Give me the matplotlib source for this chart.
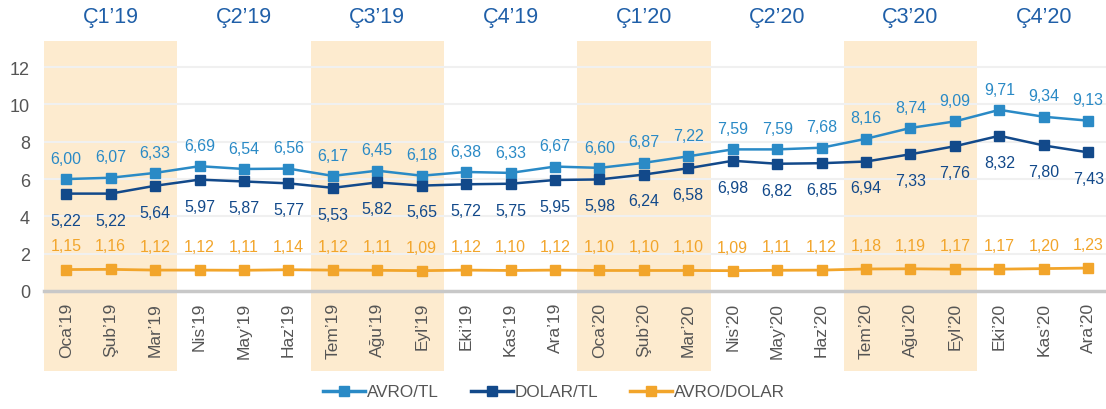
import matplotlib
matplotlib.use("Agg")
import matplotlib.pyplot as plt
from matplotlib.patches import Rectangle
from matplotlib.lines import Line2D
import matplotlib.transforms as mtransforms

plt.rcParams['font.family'] = ['Liberation Sans', 'DejaVu Sans']

months = ["Oca’19", "Şub’19", "Mar’19", "Nis’19", "May’19", "Haz’19",
          "Tem’19", "Ağu’19", "Eyl’19", "Eki’19", "Kas’19", "Ara’19",
          "Oca’20", "Şub’20", "Mar’20", "Nis’20", "May’20", "Haz’20",
          "Tem’20", "Ağu’20", "Eyl’20", "Eki’20", "Kas’20", "Ara’20"]
quarters = ["Ç1’19", "Ç2’19", "Ç3’19", "Ç4’19", "Ç1’20", "Ç2’20", "Ç3’20", "Ç4’20"]
avro_tl = [6.00, 6.07, 6.33, 6.69, 6.54, 6.56, 6.17, 6.45, 6.18, 6.38, 6.33, 6.67,
           6.60, 6.87, 7.22, 7.59, 7.59, 7.68, 8.16, 8.74, 9.09, 9.71, 9.34, 9.13]
dolar_tl = [5.22, 5.22, 5.64, 5.97, 5.87, 5.77, 5.53, 5.82, 5.65, 5.72, 5.75, 5.95,
            5.98, 6.24, 6.58, 6.98, 6.82, 6.85, 6.94, 7.33, 7.76, 8.32, 7.80, 7.43]
avro_dolar = [1.15, 1.16, 1.12, 1.12, 1.11, 1.14, 1.12, 1.11, 1.09, 1.12, 1.10, 1.12,
              1.10, 1.10, 1.10, 1.09, 1.11, 1.12, 1.18, 1.19, 1.17, 1.17, 1.20, 1.23]
series_names = ["AVRO/TL", "DOLAR/TL", "AVRO/DOLAR"]

c_avro = "#2a8ac6"
c_dolar = "#12498a"
c_orange = "#f2a52b"
c_shade = "#fdebcf"
c_q = "#1f5fa8"
c_gray = "#555555"

fig = plt.figure(figsize=(11.06, 4.10), dpi=100)
ax = fig.add_axes([44/1106, 118/410, 1062/1106, 250/410])
x = list(range(len(months)))
ax.set_xlim(-0.5, 23.4)
ax.set_ylim(0, 13.4)

# shading bands for Q1 and Q3, extending beyond axes
trans = mtransforms.blended_transform_factory(ax.transData, fig.transFigure)
for qi in range(len(quarters)):
    if qi % 2 == 0:
        r = Rectangle((qi*3 - 0.5, 38/410), 3, (368-38)/410, transform=trans,
                      facecolor=c_shade, edgecolor='none', zorder=0, clip_on=False)
        ax.add_patch(r)
    ax.text(qi*3 + 1, 392/410, quarters[qi], transform=trans, ha='center', va='center',
            color=c_q, fontsize=15.5)

ax.set_facecolor('none')
for yv in [2, 4, 6, 8, 10, 12]:
    ax.axhline(yv, color='#f0f0f0', lw=1.5, zorder=1)
ax.axhline(0, color='#c8c8c8', lw=2.5, zorder=1, clip_on=False)

for s in ax.spines.values():
    s.set_visible(False)

ax.plot(x, avro_tl, color=c_avro, lw=1.8, marker='s', ms=7.5, zorder=5)
ax.plot(x, dolar_tl, color=c_dolar, lw=1.8, marker='s', ms=7.5, zorder=5)
ax.plot(x, avro_dolar, color=c_orange, lw=2.0, marker='s', ms=7.5, zorder=5)

for i in x:
    ax.annotate(f"{avro_tl[i]:.2f}".replace('.', ','), (i, avro_tl[i]), xytext=(0, 15),
                textcoords='offset points', ha='center', va='center', color=c_avro, fontsize=11.5)
    ax.annotate(f"{dolar_tl[i]:.2f}".replace('.', ','), (i, dolar_tl[i]), xytext=(0, -19),
                textcoords='offset points', ha='center', va='center', color=c_dolar, fontsize=11.5)
    ax.annotate(f"{avro_dolar[i]:.2f}".replace('.', ','), (i, avro_dolar[i]), xytext=(0, 17),
                textcoords='offset points', ha='center', va='center', color=c_orange, fontsize=11.5)

ax.set_yticks([0, 2, 4, 6, 8, 10, 12])
ax.set_yticklabels(["0", "2", "4", "6", "8", "10", "12"], color=c_gray, fontsize=13)
ax.set_xticks(x)
ax.set_xticklabels(months, rotation=90, color=c_gray, fontsize=12.5)
ax.tick_params(axis='both', length=0)
ax.tick_params(axis='x', pad=8)
ax.tick_params(axis='y', pad=10)

handles = [Line2D([], [], color=c, lw=2.5, marker='s', ms=7) for c in (c_avro, c_dolar, c_orange)]
leg = fig.legend(handles, series_names, loc='center', bbox_to_anchor=(554/1106, 17/410),
                 ncol=3, frameon=False, fontsize=12.3, handlelength=2.45, handletextpad=0.1,
                 columnspacing=1.9)
for t in leg.get_texts():
    t.set_color(c_gray)

fig.savefig("out.png", dpi=100)
